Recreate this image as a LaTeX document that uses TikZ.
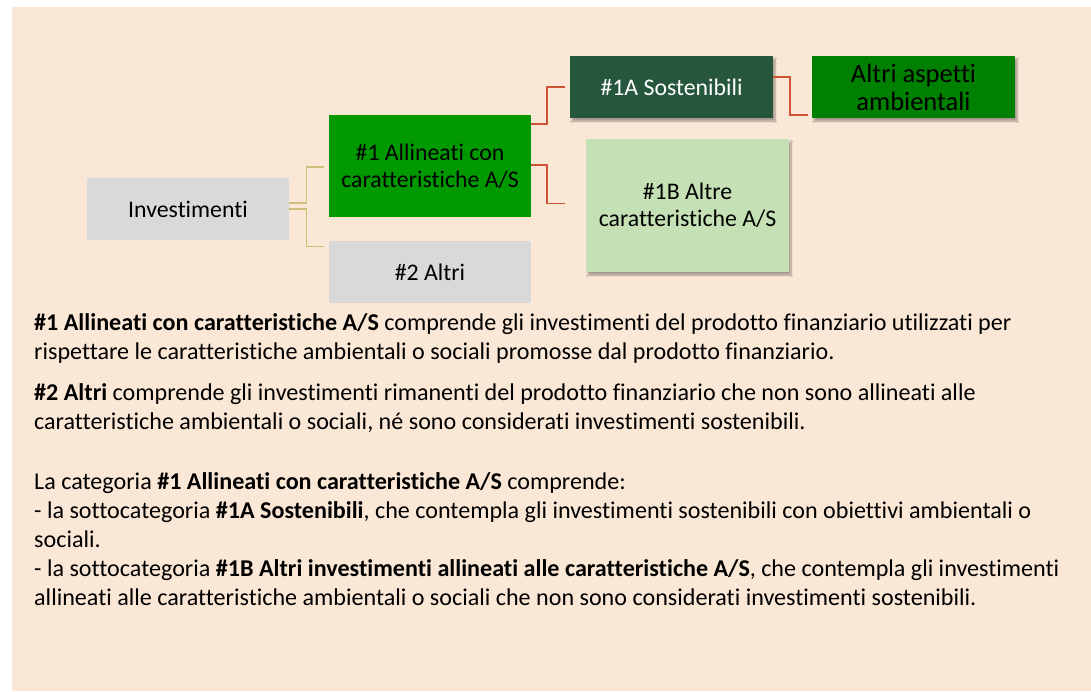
\documentclass[tikz,border=0pt]{standalone}
\usepackage{fontspec}
\setmainfont{Carlito}[Ligatures=NoCommon]
\usetikzlibrary{calc,shadows.blur}
\definecolor{peach}{RGB}{251,231,214}
\definecolor{boxgrey}{RGB}{217,217,217}
\definecolor{midgreen}{RGB}{0,153,0}
\definecolor{darkgreen}{RGB}{38,87,60}
\definecolor{deepgreen}{RGB}{0,128,0}
\definecolor{palegreen}{RGB}{197,224,180}
\definecolor{olive}{RGB}{204,192,122}
\definecolor{rust}{RGB}{205,84,52}
\begin{document}
\begin{tikzpicture}[x=1pt,y=-1pt,
    box/.style={minimum width=202pt,inner sep=0pt,align=center,font=\fontsize{23.8}{27}\selectfont},
    shade/.style={blur shadow={shadow xshift=2pt,shadow yshift=-3pt,shadow blur steps=6,shadow opacity=35}},
    yline/.style={draw=olive,line width=1.3pt},
    rline/.style={draw=rust,line width=1.8pt},
    txt/.style={anchor=base west,inner sep=0pt,font=\fontsize{24.1}{29}\selectfont}]
    \useasboundingbox (0,0) rectangle (1091,691);
    \fill[peach] (12,7) rectangle (1091,691);
    % tree
    \node[box,fill=boxgrey,minimum height=62pt] (inv) at (188,209) {Investimenti};
    \node[box,fill=midgreen,minimum height=102pt] (al1) at (430,166) {\#1 Allineati con\\caratteristiche A/S};
    \node[box,fill=boxgrey,minimum height=62pt] (alt2) at (430,272) {\#2 Altri};
    \node[box,shade,fill=darkgreen,text=white,minimum width=203pt,minimum height=62pt] (sost) at (671.5,87) {\#1A Sostenibili};
    \node[box,shade,fill=deepgreen,minimum width=203pt,minimum height=62pt,font=\fontsize{26.5}{28}\selectfont] (amb) at (913.5,87) {Altri aspetti\\ambientali};
    \node[box,shade,fill=palegreen,minimum width=203pt,minimum height=133pt] (altre) at (687.5,205.5) {\#1B Altre\\caratteristiche A/S};
    \draw[yline] ($(inv.east)+(0,-6)$) -- ++(17,0) |- ($(al1.west)+(-5,1)$);
    \draw[yline] (inv.east) -- ++(17,0) |- ($(alt2.north west)+(-5,6)$);
    \draw[rline] ($(al1.east)+(0,-42)$) -- ++(16,0) |- ($(sost.west)+(-5,0)$);
    \draw[rline] ($(al1.east)+(0,-1)$) -- ++(16,0) |- ($(altre.west)+(-21,-2)$);
    \draw[rline] ($(sost.east)+(0,-10)$) -- ++(17,0) |- ($(amb.south west)+(-4,-3)$);
    % notes
    \node[txt] (t1) at (34,330) {\textbf{\#1 Allineati con caratteristiche A/S} comprende gli investimenti del prodotto finanziario utilizzati per};
    \node[txt] (t2) at (34,359) {rispettare le caratteristiche ambientali o sociali promosse dal prodotto finanziario.};
    \node[txt] (t3) at (34,400) {\textbf{\#2 Altri} comprende gli investimenti rimanenti del prodotto finanziario che non sono allineati alle};
    \node[txt] (t4) at (34,429) {caratteristiche ambientali o sociali, né sono considerati investimenti sostenibili.};
    \node[txt] (t5) at (34,489) {La categoria \textbf{\#1 Allineati con caratteristiche A/S} comprende:};
    \node[txt] (t6) at (34,518) {- la sottocategoria \textbf{\#1A Sostenibili}, che contempla gli investimenti sostenibili con obiettivi ambientali o};
    \node[txt] (t7) at (34,547) {sociali.};
    \node[txt] (t8) at (34,576) {- la sottocategoria \textbf{\#1B Altri investimenti allineati alle caratteristiche A/S}, che contempla gli investimenti};
    \node[txt] (t9) at (34,605) {allineati alle caratteristiche ambientali o sociali che non sono considerati investimenti sostenibili.};
\end{tikzpicture}
\end{document}
